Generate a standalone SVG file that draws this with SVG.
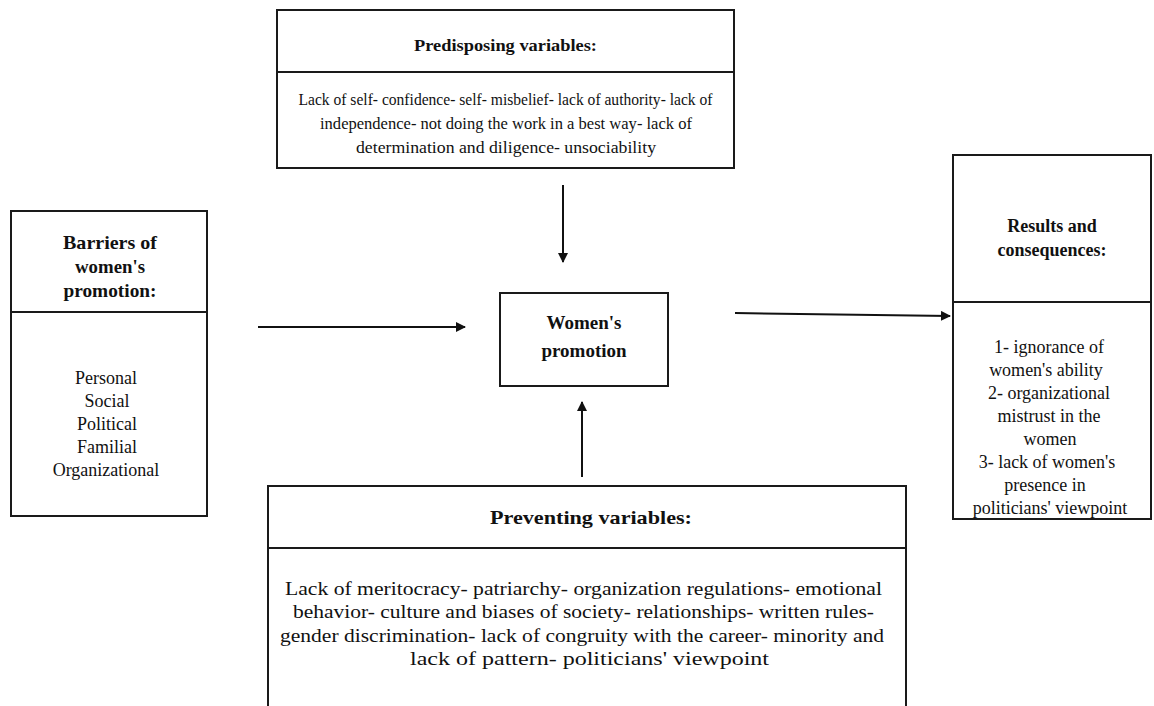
<svg xmlns="http://www.w3.org/2000/svg" width="1154" height="706" viewBox="0 0 1154 706">
<style>
.box{fill:#fff;stroke:#1a1a1a;stroke-width:2}
.div{stroke:#1a1a1a;stroke-width:2}
text{font-family:'Liberation Serif','Tinos','Times New Roman',Times,'DejaVu Serif',serif;fill:#111;text-anchor:middle}
.b{font-weight:bold}
.con{stroke:#111;stroke-width:2;fill:none}
</style>
<defs>
<marker id="ah" viewBox="0 0 10 10" refX="9" refY="5" markerWidth="5" markerHeight="5" orient="auto" markerUnits="strokeWidth">
<path d="M0,0 L10,5 L0,10 z" fill="#111"/>
</marker>
</defs>
<rect width="1154" height="706" fill="#fff"/>
<g id="predisposing">
<rect class="box" x="277" y="10" width="457" height="158"/>
<line class="div" x1="277" y1="72" x2="734" y2="72"/>
<text class="b" x="505.5" y="51" font-size="17" textLength="183" lengthAdjust="spacingAndGlyphs">Predisposing variables:</text>
<text x="505.5" y="105" font-size="17" textLength="414" lengthAdjust="spacingAndGlyphs">Lack of self- confidence- self- misbelief- lack of authority- lack of</text>
<text x="506" y="129" font-size="17" textLength="372" lengthAdjust="spacingAndGlyphs">independence- not doing the work in a best way- lack of</text>
<text x="506" y="153" font-size="17" textLength="300" lengthAdjust="spacingAndGlyphs">determination and diligence- unsociability</text>
</g>
<g id="barriers">
<rect class="box" x="11" y="211" width="196" height="305"/>
<line class="div" x1="11" y1="312" x2="207" y2="312"/>
<text class="b" x="110" y="249" font-size="19" textLength="94" lengthAdjust="spacingAndGlyphs">Barriers of</text>
<text class="b" x="110" y="273" font-size="19" textLength="70" lengthAdjust="spacingAndGlyphs">women's</text>
<text class="b" x="110" y="297" font-size="19" textLength="93" lengthAdjust="spacingAndGlyphs">promotion:</text>
<text x="106" y="384" font-size="18">Personal</text>
<text x="107" y="407" font-size="18">Social</text>
<text x="107" y="430" font-size="18">Political</text>
<text x="107" y="453" font-size="18">Familial</text>
<text x="106" y="476" font-size="18">Organizational</text>
</g>
<g id="womens-promotion">
<rect class="box" x="500" y="293" width="168" height="93"/>
<text class="b" x="584" y="329" font-size="19">Women's</text>
<text class="b" x="584" y="357" font-size="19">promotion</text>
</g>
<g id="results">
<rect class="box" x="953" y="155" width="198" height="364"/>
<line class="div" x1="953" y1="302" x2="1151" y2="302"/>
<text class="b" x="1052" y="232" font-size="18">Results and</text>
<text class="b" x="1052" y="256" font-size="18">consequences:</text>
<text x="1049" y="353" font-size="18">1- ignorance of</text>
<text x="1046" y="376" font-size="18">women's ability</text>
<text x="1049" y="399" font-size="18">2- organizational</text>
<text x="1049" y="422" font-size="18">mistrust in the</text>
<text x="1050" y="445" font-size="18">women</text>
<text x="1047" y="468" font-size="18">3- lack of women's</text>
<text x="1045" y="491" font-size="18">presence in</text>
<text x="1050" y="514" font-size="18">politicians' viewpoint</text>
</g>
<g id="preventing">
<rect class="box" x="268" y="486" width="638" height="240"/>
<line class="div" x1="268" y1="548" x2="906" y2="548"/>
<text class="b" x="591" y="524" font-size="19" textLength="202" lengthAdjust="spacingAndGlyphs">Preventing variables:</text>
<text x="583.5" y="595" font-size="19" textLength="597" lengthAdjust="spacingAndGlyphs">Lack of meritocracy- patriarchy- organization regulations- emotional</text>
<text x="583.5" y="618" font-size="19" textLength="581" lengthAdjust="spacingAndGlyphs">behavior- culture and biases of society- relationships- written rules-</text>
<text x="582" y="642" font-size="19" textLength="604" lengthAdjust="spacingAndGlyphs">gender discrimination- lack of congruity with the career- minority and</text>
<text x="589.5" y="665" font-size="19" textLength="359" lengthAdjust="spacingAndGlyphs">lack of pattern- politicians' viewpoint</text>
</g>
<g id="connectors">
<line class="con" x1="563" y1="185" x2="563" y2="262" marker-end="url(#ah)"/>
<line class="con" x1="258" y1="327" x2="465" y2="327" marker-end="url(#ah)"/>
<line class="con" x1="735" y1="313" x2="950" y2="316" marker-end="url(#ah)"/>
<line class="con" x1="582" y1="477" x2="582" y2="402" marker-end="url(#ah)"/>
</g>
</svg>
